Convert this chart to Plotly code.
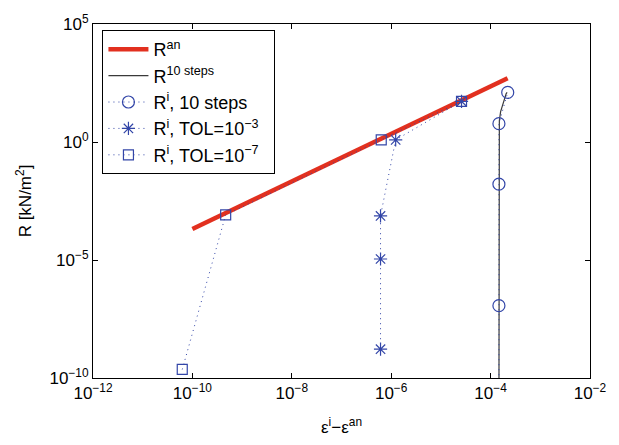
import plotly.graph_objects as go

# ---- data ----
eps_an = [1e-10, 2.2e-4]
R_an = [2.06e-4, 5.0e2]

eps_10 = [1.47e-4, 1.47e-4, 1.50e-4, 1.59e-4, 1.80e-4, 2.06e-4, 2.15e-4]
R_10 = [1e-12, 3.0, 8.0, 19.5, 51.0, 112.0, 126.0]

eps_circ = [1.47e-4, 1.47e-4, 1.47e-4, 1.47e-4, 2.21e-4]
R_circ = [1e-12, 1.16e-7, 1.64e-2, 6.0, 126.0]

eps_star = [6.1e-7, 6.1e-7, 6.1e-7, 1.23e-6, 2.6e-5]
R_star = [1.66e-9, 1.1e-5, 7.4e-4, 1.23, 53.0]

eps_sq = [6.25e-11, 4.67e-10, 6.3e-7, 2.6e-5]
R_sq = [2.3e-10, 8.1e-4, 1.23, 53.0]

x_exps = [-12, -10, -8, -6, -4, -2]
y_exps = [-10, -5, 0, 5]

FONT = "Liberation Sans, Arial, Helvetica, sans-serif"
BLUE = "#3346a8"
RED = "#e2301f"

def sup(e):
    return "10<sup>%s</sup>" % (str(e).replace("-", "\u2212"))

fig = go.Figure()
fig.add_trace(go.Scatter(x=eps_an, y=R_an, mode="lines",
                         line=dict(color=RED, width=4.5),
                         name="R<sup>an</sup>"))
fig.add_trace(go.Scatter(x=eps_10, y=R_10, mode="lines",
                         line=dict(color="#3a3a3a", width=1.2),
                         name="R<sup>10 steps</sup>"))
fig.add_trace(go.Scatter(x=eps_circ, y=R_circ, mode="lines+markers",
                         line=dict(color=BLUE, width=1, dash="1px,4px"),
                         marker=dict(symbol="circle-open", size=12, color=BLUE,
                                     line=dict(width=1.2, color=BLUE)),
                         name="R<sup>i</sup>, 10 steps"))
fig.add_trace(go.Scatter(x=eps_star, y=R_star, mode="lines+markers",
                         line=dict(color=BLUE, width=1, dash="1px,4px"),
                         marker=dict(symbol="asterisk-open", size=11, color=BLUE,
                                     line=dict(width=1.2, color=BLUE)),
                         name="R<sup>i</sup>, TOL=10<sup>\u22123</sup>"))
fig.add_trace(go.Scatter(x=eps_sq, y=R_sq, mode="lines+markers",
                         line=dict(color=BLUE, width=1, dash="1px,4px"),
                         marker=dict(symbol="square-open", size=10, color=BLUE,
                                     line=dict(width=1.2, color=BLUE)),
                         name="R<sup>i</sup>, TOL=10<sup>\u22127</sup>\u00a0\u00a0"))

axis_common = dict(type="log", showgrid=False, zeroline=False,
                   showline=True, linecolor="black", linewidth=1,
                   mirror="ticks", ticks="inside", ticklen=5, tickwidth=1,
                   tickcolor="black",
                   tickfont=dict(family=FONT, size=17, color="black"))

fig.update_xaxes(range=[-12, -2],
                 tickvals=[10.0 ** e for e in x_exps],
                 ticktext=[sup(e) for e in x_exps],
                 title=dict(text="\u03b5<sup>i</sup>\u2212\u03b5<sup>an</sup>",
                            font=dict(family=FONT, size=17, color="black"),
                            standoff=18),
                 **axis_common)
fig.update_yaxes(range=[-10, 5],
                 tickvals=[10.0 ** e for e in y_exps],
                 ticktext=[sup(e) for e in y_exps],
                 title=dict(text="R [kN/m<sup>2</sup>]",
                            font=dict(family=FONT, size=17, color="black"),
                            standoff=13),
                 **axis_common)

fig.update_layout(
    width=619, height=445,
    margin=dict(l=93, r=18, t=17, b=66),
    paper_bgcolor="white", plot_bgcolor="white",
    font=dict(family=FONT, size=17, color="black"),
    showlegend=True,
    legend=dict(x=0.019, y=0.983, xanchor="left", yanchor="top",
                bgcolor="white", bordercolor="black", borderwidth=1,
                font=dict(family=FONT, size=18, color="black"),
                itemwidth=40, tracegroupgap=0),
)

fig.write_html("out.html")
